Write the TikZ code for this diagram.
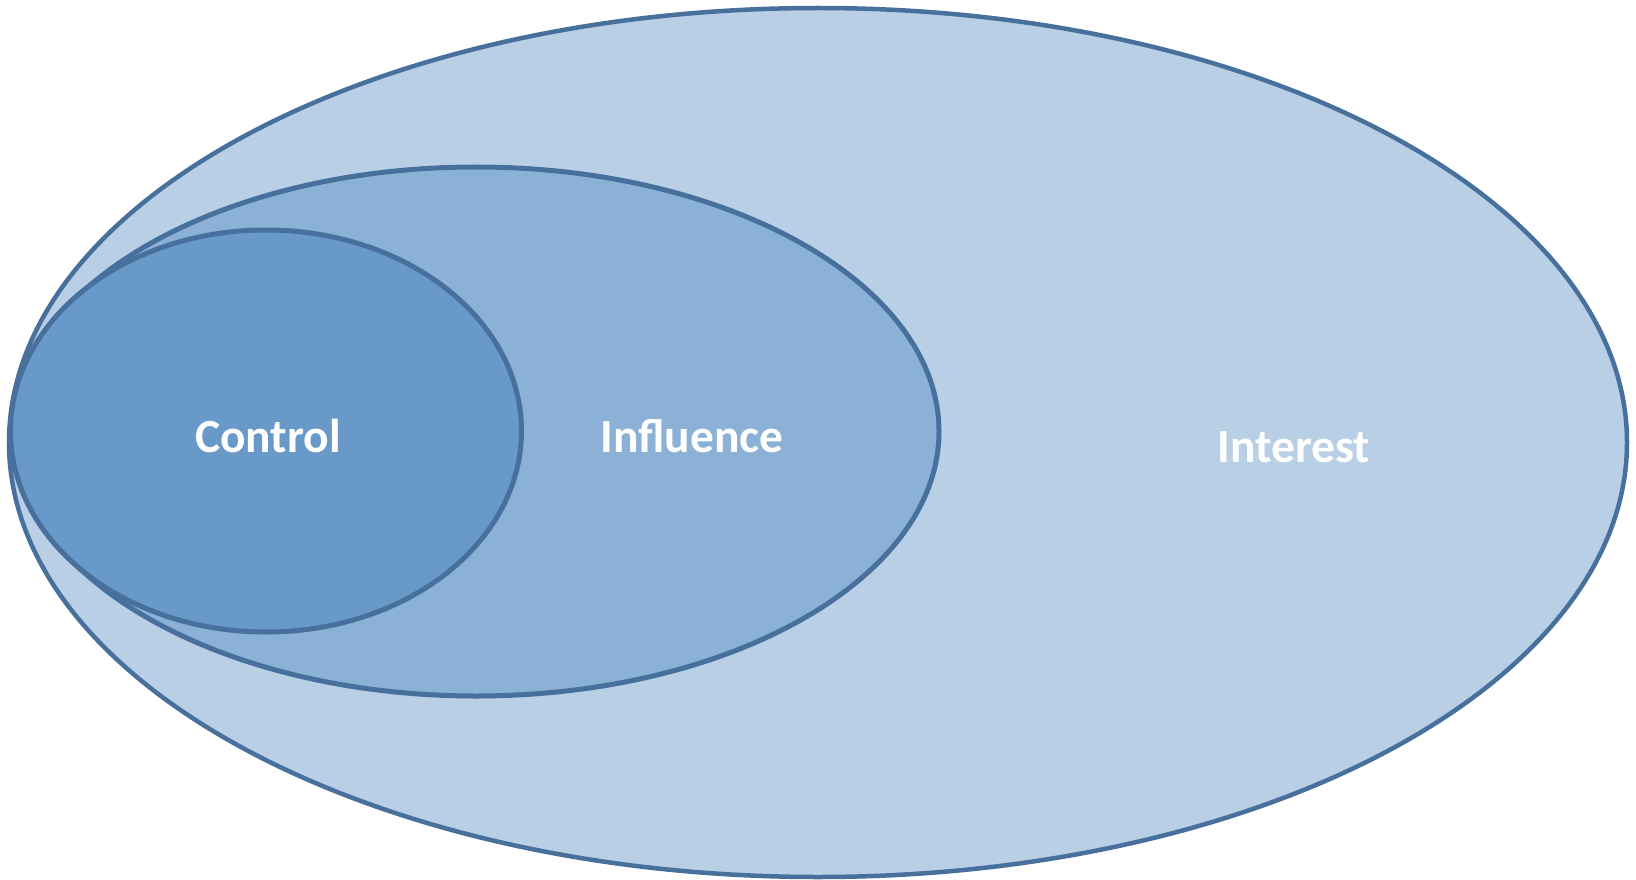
\documentclass[tikz,border=0pt]{standalone}
\usepackage{fontspec}
\setmainfont{Carlito}
\definecolor{edge}{HTML}{48709D}
\definecolor{fillout}{HTML}{B8CFE6}
\definecolor{fillmid}{HTML}{8BB1D6}
\definecolor{fillin}{HTML}{6899C9}
\begin{document}
\begin{tikzpicture}[x=1pt,y=-1pt,
  ring/.style={draw=edge, line width=4.5pt},
  lbl/.style={text=white, font=\fontsize{47.5}{50}\selectfont\bfseries, inner sep=0pt, anchor=base}]
\useasboundingbox (0,0) rectangle (1636,880);
\fill[white] (0,0) rectangle (1636,880);
\draw[ring, fill=fillout] (818,442.5) ellipse [x radius=809, y radius=434.5];
\draw[ring, line width=5pt, fill=fillmid] (476,431.5) ellipse [x radius=463, y radius=264.5];
\draw[ring, line width=5pt, fill=fillin] (266,431) ellipse [x radius=255.5, y radius=201];
\node[lbl] (control) at (268,452) {Control};
\node[lbl] (influence) at (692,452) {Influence};
\node[lbl] (interest) at (1294,462) {Interest};
\end{tikzpicture}
\end{document}
